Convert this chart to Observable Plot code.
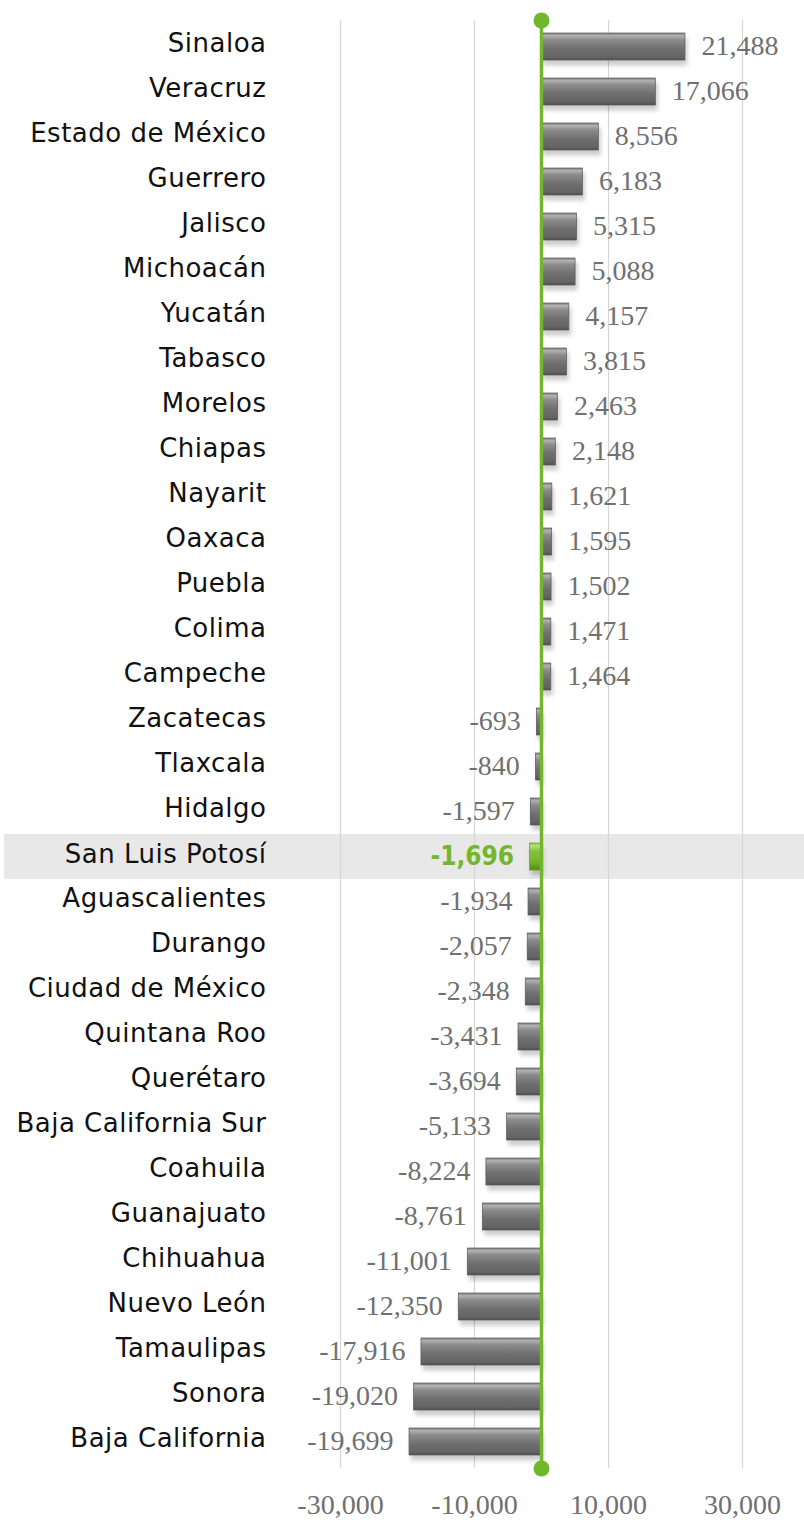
<!DOCTYPE html>
<html>
<head>
<meta charset="utf-8">
<script src="https://cdn.jsdelivr.net/npm/d3@7"></script>
<script src="https://cdn.jsdelivr.net/npm/@observablehq/plot@0.6"></script>
<style>
  html, body { margin: 0; padding: 0; background: #fff; }
  #chart svg { display: block; }
</style>
</head>
<body>
<div id="chart"></div>
<script>
const states = ["Sinaloa","Veracruz","Estado de México","Guerrero","Jalisco","Michoacán","Yucatán","Tabasco","Morelos","Chiapas","Nayarit","Oaxaca","Puebla","Colima","Campeche","Zacatecas","Tlaxcala","Hidalgo","San Luis Potosí","Aguascalientes","Durango","Ciudad de México","Quintana Roo","Querétaro","Baja California Sur","Coahuila","Guanajuato","Chihuahua","Nuevo León","Tamaulipas","Sonora","Baja California"];
const values = [21488,17066,8556,6183,5315,5088,4157,3815,2463,2148,1621,1595,1502,1471,1464,-693,-840,-1597,-1696,-1934,-2057,-2348,-3431,-3694,-5133,-8224,-8761,-11001,-12350,-17916,-19020,-19699];
const xTicks = [-30000,-10000,10000,30000];
const highlight = "San Luis Potosí";

const data = states.map((s, i) => ({state: s, value: values[i]}));
const fmt = d3.formatLocale({decimal: ".", thousands: ",", grouping: [3], currency: ["$", ""], minus: "-"}).format(",");
const green = "#72b62b";
const numFont = "'Liberation Serif', serif";
const labelFont = "'DejaVu Sans', sans-serif";

const isHi = d => d.state === highlight;
const notHi = d => d.state !== highlight;

const bandMark = (index, scales, values, dimensions) => {
  const y = scales.y;
  const step = typeof y.step === "function" ? y.step() : (dimensions.height - dimensions.marginTop - dimensions.marginBottom) / states.length;
  const bw = typeof y.bandwidth === "function" ? y.bandwidth() : step * 0.62;
  const top = y(highlight) - (step - bw) / 2;
  return d3.create("svg:rect")
    .attr("x", 4)
    .attr("y", top)
    .attr("width", dimensions.width - 4)
    .attr("height", step)
    .attr("fill", "#e8e8e8")
    .node();
};

const svg = Plot.plot({
  width: 804,
  height: 1520,
  marginTop: 20,
  marginBottom: 52,
  marginLeft: 340,
  marginRight: 62,
  style: {background: "#fff"},
  x: {domain: [-30000, 30000], axis: null},
  y: {domain: states, paddingInner: 0.4, paddingOuter: 0.2, axis: null},
  marks: [
    bandMark,
    Plot.gridX(xTicks, {stroke: "#d6d6d6", strokeOpacity: 1, strokeWidth: 1.2}),
    Plot.barX(data, {filter: notHi, x: "value", y: "state", fill: "url(#gGray)", stroke: "#5a5a5a", strokeWidth: 0.7}),
    Plot.barX(data, {filter: isHi, x: "value", y: "state", fill: "url(#gGreen)", stroke: "#5f9e22", strokeWidth: 0.7}),
    Plot.text(data, {filter: d => d.value > 0, x: "value", y: "state", text: d => fmt(d.value), textAnchor: "start", dx: 16, dy: -1, fill: "#707070", fontFamily: numFont, fontSize: 28}),
    Plot.text(data, {filter: d => d.value < 0 && notHi(d), x: "value", y: "state", text: d => fmt(d.value), textAnchor: "end", dx: -16, dy: -1, fill: "#707070", fontFamily: numFont, fontSize: 28}),
    Plot.text(data, {filter: isHi, x: "value", y: "state", text: d => fmt(d.value), textAnchor: "end", dx: -16, dy: 0, fill: green, fontFamily: "'DejaVu Sans Condensed', sans-serif", fontWeight: "bold", fontSize: 26}),
    Plot.axisY({ticks: states.filter(s => s !== highlight), tickSize: 0, tickPadding: 74, dy: -3, fontFamily: labelFont, fontSize: 26, fill: "#111", label: null}),
    Plot.axisY({ticks: [highlight], tickSize: 0, tickPadding: 74, dy: -2, fontFamily: labelFont, fontSize: 26, fill: "#111", label: null}),
    Plot.axisX({ticks: xTicks, tickSize: 0, tickPadding: 26, tickFormat: fmt, fontFamily: numFont, fontSize: 28, fill: "#707070", label: null}),
    Plot.ruleX([0], {stroke: green, strokeWidth: 3.5}),
    Plot.dot([0], {x: d => d, frameAnchor: "top", r: 8, fill: green, stroke: "none"}),
    Plot.dot([0], {x: d => d, frameAnchor: "bottom", r: 8, fill: green, stroke: "none"})
  ]
});

const root = d3.select(svg);
const defs = root.insert("defs", ":first-child");
function grad(id, stops) {
  const g = defs.append("linearGradient").attr("id", id).attr("x1", 0).attr("y1", 0).attr("x2", 0).attr("y2", 1);
  stops.forEach(([o, c]) => g.append("stop").attr("offset", o).attr("stop-color", c));
}
grad("gGray", [[0, "#7c7c7c"], [0.1, "#b2b2b2"], [0.25, "#8c8c8c"], [0.6, "#6e6e6e"], [0.9, "#636363"], [1, "#4c4c4c"]]);
grad("gGreen", [[0, "#86c241"], [0.1, "#b8e07e"], [0.3, "#86c241"], [0.7, "#72b62b"], [1, "#4f8c17"]]);
root.selectAll('g[aria-label="bar"]').style("filter", "drop-shadow(2px 5px 2px rgba(0,0,0,0.2))");
root.selectAll('g[aria-label="y-axis tick label"] text').style("letter-spacing", "0.5px");

document.getElementById("chart").appendChild(svg);
</script>
</body>
</html>
